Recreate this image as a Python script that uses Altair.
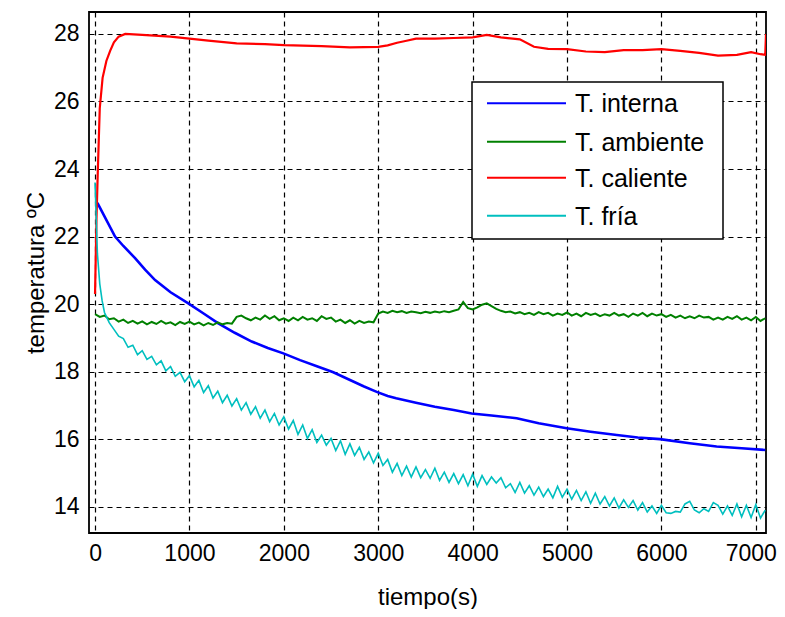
import altair as alt
import pandas as pd

# ---------------- data ----------------
interna_t = [25, 100, 212, 300, 424, 530, 636, 800, 988, 1150, 1306, 1480, 1660, 1830, 1995,
             2172, 2350, 2524, 2701, 2850, 2984, 3100, 3190, 3400, 3600, 3800, 3990, 4200,
             4467, 4700, 4997, 5250, 5527, 5750, 5985, 6300, 6585, 6850, 7100]
interna_v = [23.0, 22.6, 22.0, 21.72, 21.36, 21.02, 20.71, 20.35, 20.02, 19.72, 19.43, 19.15,
             18.89, 18.7, 18.54, 18.34, 18.16, 17.98, 17.75, 17.56, 17.4, 17.28, 17.21, 17.08,
             16.96, 16.86, 16.76, 16.7, 16.62, 16.47, 16.32, 16.22, 16.12, 16.05, 16.0, 15.88,
             15.78, 15.73, 15.68]

ambiente_t = list(range(0, 7101, 50))
ambiente_v = [
    19.70, 19.62, 19.66, 19.55, 19.58, 19.48, 19.54, 19.44, 19.50, 19.42, 19.49, 19.40, 19.47, 19.41, 19.50, 19.42, 19.46, 19.38, 19.47, 19.41,
    19.48, 19.40, 19.45, 19.37, 19.44, 19.38, 19.46, 19.40, 19.44, 19.42, 19.62, 19.66, 19.58, 19.52, 19.60, 19.54, 19.66, 19.56, 19.64, 19.52,
    19.58, 19.50, 19.60, 19.52, 19.62, 19.54, 19.58, 19.50, 19.64, 19.56, 19.60, 19.48, 19.54, 19.44, 19.52, 19.42, 19.50, 19.44, 19.48, 19.46,
    19.72, 19.78, 19.74, 19.80, 19.76, 19.79, 19.74, 19.78, 19.76, 19.73, 19.77, 19.74, 19.78, 19.75, 19.79, 19.76, 19.80, 19.84, 20.06, 19.88,
    19.84, 19.90, 19.98, 20.02, 19.94, 19.86, 19.80, 19.76, 19.78, 19.72, 19.76, 19.70, 19.74, 19.68, 19.76, 19.70, 19.74, 19.66, 19.72, 19.68,
    19.75, 19.66, 19.72, 19.64, 19.74, 19.68, 19.72, 19.64, 19.70, 19.66, 19.74, 19.66, 19.70, 19.62, 19.72, 19.66, 19.74, 19.64, 19.72, 19.66,
    19.70, 19.62, 19.68, 19.60, 19.66, 19.58, 19.64, 19.58, 19.66, 19.60, 19.62, 19.54, 19.60, 19.54, 19.62, 19.56, 19.64, 19.54, 19.60, 19.52,
    19.62, 19.50, 19.58]

caliente_t = [0, 15, 30, 50, 80, 120, 160, 200, 250, 320, 500, 800, 1000, 1200, 1500, 1800,
              2000, 2400, 2700, 3000, 3100, 3200, 3300, 3400, 3600, 3800, 4000, 4150, 4300,
              4500, 4650, 4800, 5000, 5200, 5400, 5600, 5800, 6000, 6200, 6400, 6600, 6800,
              6950, 7050, 7100, 7108]
caliente_v = [20.3, 22.5, 24.0, 25.8, 26.7, 27.2, 27.5, 27.75, 27.92, 28.0, 27.97, 27.92,
              27.86, 27.8, 27.72, 27.7, 27.67, 27.64, 27.6, 27.62, 27.66, 27.74, 27.8, 27.86,
              27.86, 27.88, 27.9, 27.97, 27.9, 27.84, 27.62, 27.56, 27.55, 27.48, 27.46, 27.52,
              27.52, 27.55, 27.5, 27.44, 27.36, 27.38, 27.46, 27.4, 27.38, 28.0]

fria_t = [0, 25, 50, 75, 100, 150, 200, 250] + list(range(300, 7101, 50))
fria_v = [23.6, 21.5, 20.6, 20.1, 19.75, 19.45, 19.25, 19.05,
    18.98, 18.72, 18.78, 18.50, 18.62, 18.36, 18.45, 18.20, 18.32, 18.02, 18.15, 17.86, 17.98, 17.70,
    17.88, 17.55, 17.74, 17.38, 17.58, 17.22, 17.42, 17.08, 17.30, 16.98, 17.20, 16.86, 17.08, 16.74, 16.96, 16.62, 16.86, 16.52, 16.76, 16.42,
    16.66, 16.30, 16.55, 16.14, 16.42, 16.02, 16.28, 15.90, 16.12, 15.82, 16.02, 15.66, 15.95, 15.55, 15.86, 15.52, 15.76, 15.40, 15.62, 15.30,
    15.58, 15.22, 15.40, 15.02, 15.28, 14.92, 15.20, 14.88, 15.18, 14.86, 15.10, 14.84, 15.14, 14.78, 15.02, 14.72, 14.98, 14.68, 14.95, 14.62,
    14.96, 14.60, 14.92, 14.66, 14.88, 14.70, 14.86, 14.56, 14.68, 14.42, 14.72, 14.40, 14.62, 14.34, 14.58, 14.30, 14.52, 14.26, 14.60, 14.28,
    14.52, 14.22, 14.48, 14.18, 14.44, 14.10, 14.40, 14.08, 14.30, 14.02, 14.26, 13.96, 14.20, 13.98, 14.18, 13.90, 14.12, 13.84, 14.02, 13.80,
    14.04, 13.82, 13.80, 13.86, 13.84, 14.08, 14.16, 13.90, 13.82, 13.94, 13.86, 14.12, 14.04, 13.78, 14.02, 13.74, 14.08, 13.70, 14.04, 13.68,
    14.06, 13.66, 13.90]

series_names = ["T. interna", "T. ambiente", "T. caliente", "T. fría"]
series_colors = ["#0000FF", "#008000", "#FF0000", "#00BFBF"]
series_widths = [2.6, 2.0, 2.2, 1.6]

x_ticks = [0, 1000, 2000, 3000, 4000, 5000, 6000, 7000]
y_ticks = [14, 16, 18, 20, 22, 24, 26, 28]
x_domain = [-64, 7108]
y_domain = [13.22, 28.65]

FONT = "Liberation Sans"
W, H = 677, 521

series_data = [(interna_t, interna_v), (ambiente_t, ambiente_v),
               (caliente_t, caliente_v), (fria_t, fria_v)]

x_enc = alt.X("t:Q", scale=alt.Scale(domain=x_domain, nice=False, zero=False),
              axis=alt.Axis(values=x_ticks, title="tiempo(s)", format="d",
                            labelPadding=9, titlePadding=20,
                            labelOffset={"condition": {"test": "datum.value == 7000", "value": -5},
                                         "value": 0}))
y_enc = alt.Y("v:Q", scale=alt.Scale(domain=y_domain, nice=False, zero=False),
              axis=alt.Axis(values=y_ticks, title="temperatura ºC",
                            labelPadding=10, titlePadding=5))

layers = []
for (tt, vv), name, col, sw in zip(series_data, series_names, series_colors, series_widths):
    df = pd.DataFrame({"t": tt, "v": vv, "serie": name})
    layers.append(
        alt.Chart(df).mark_line(color=col, strokeWidth=sw, clip=True).encode(
            x=x_enc, y=y_enc, order="t:Q")
    )

# legend box (drawn as marks, MATLAB style)
leg_df = pd.DataFrame({"serie": series_names, "color": series_colors})
legend_layers = [
    alt.Chart(leg_df.head(1)).mark_rect(fill="white", stroke="black", strokeWidth=1.5).encode(
        x=alt.value(383), x2=alt.value(634), y=alt.value(70), y2=alt.value(227))
]
row_y = [91.3, 129.7, 165.7, 203.7]
for i, (name, col) in enumerate(zip(series_names, series_colors)):
    sub = leg_df.iloc[[i]]
    legend_layers.append(
        alt.Chart(sub).mark_rule(color=col, strokeWidth=2).encode(
            x=alt.value(398), x2=alt.value(477), y=alt.value(row_y[i])))
    legend_layers.append(
        alt.Chart(sub).mark_text(align="left", baseline="middle", font=FONT,
                                 fontSize=25, color="black").encode(
            x=alt.value(486), y=alt.value(row_y[i] + 1), text="serie:N"))

chart = alt.layer(*layers, *legend_layers).properties(
    width=W, height=H,
    autosize=alt.AutoSizeParams(type="none"),
    padding={"left": 81, "top": 4, "right": 11, "bottom": 76},
    background="white",
).configure_view(
    stroke="black", strokeWidth=1.8
).configure_axis(
    labelFont=FONT, labelFontSize=23, labelColor="black",
    titleFont=FONT, titleFontSize=24, titleFontWeight="normal", titleColor="black",
    domain=False, ticks=False,
    grid=True, gridColor="black", gridDash=[5, 4], gridWidth=1.2, gridOpacity=1,
)

chart.save("out.html", embed_options={"renderer": "svg", "actions": False})
